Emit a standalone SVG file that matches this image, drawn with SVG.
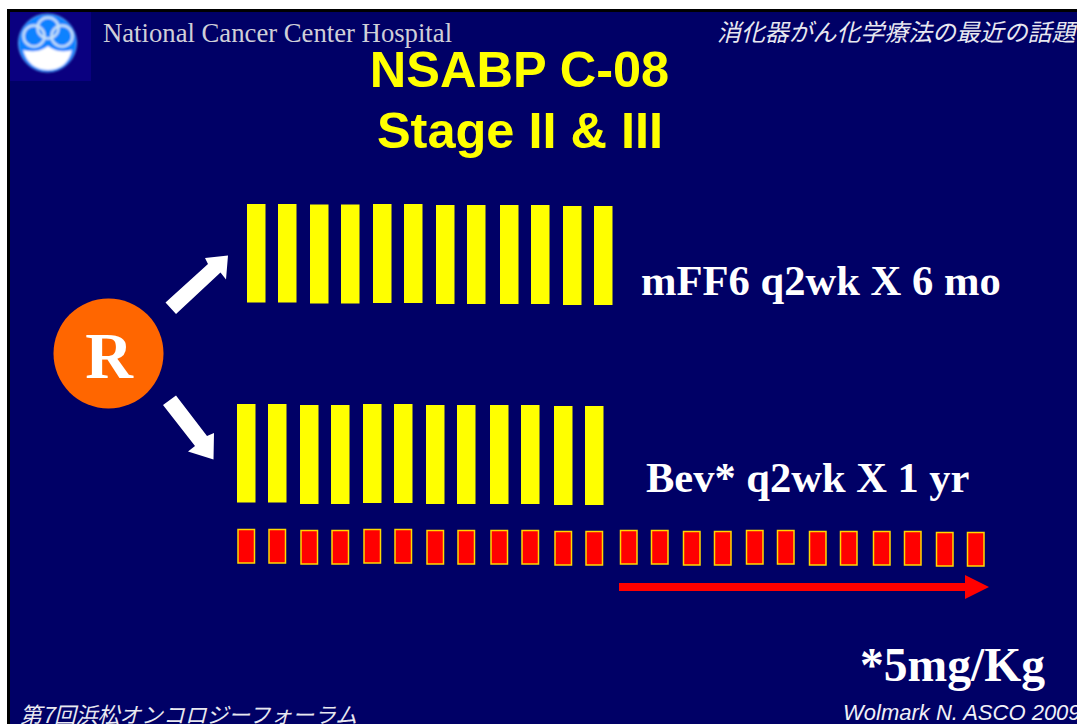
<svg xmlns="http://www.w3.org/2000/svg" width="1077" height="724" viewBox="0 0 1077 724">
<defs>
<style>
.y{fill:#ffff00}
.r{fill:#ff0000;stroke:#ffd800;stroke-width:1.5}
.w{fill:#fff}
.t{font-family:"Liberation Serif",serif;font-weight:700;fill:#fff}
.h{font-family:"Liberation Sans",sans-serif;font-weight:700;fill:#ffff00;font-size:50.500px;text-anchor:middle}
.j{font-family:"Noto Sans CJK JP",sans-serif;font-style:italic;fill:#e8e8f0}
</style>
<filter id="soft" x="-10%" y="-10%" width="120%" height="120%"><feGaussianBlur stdDeviation="0.800"/></filter>
</defs>
<rect width="1077" height="724" fill="#fff"/>
<rect x="7" y="9" width="1070" height="715" fill="#000"/>
<rect x="10" y="12" width="1067" height="712" fill="#000066"/>
<g id="logo">
<rect x="10" y="12" width="81" height="69" fill="#0a0080"/>
<g filter="url(#soft)">
<circle cx="47.500" cy="43" r="29" fill="#0a82ff" stroke="#5aa8f0" stroke-width="1"/>
<path d="M23 50Q38 54 48 46Q58 54 72 50Q67 70 48 70Q29 70 23 50Z" fill="#fff"/>
<g fill="none" stroke="#c8e0f8" stroke-width="2.500"><circle cx="34" cy="36" r="10.500"/><circle cx="62" cy="36" r="10.500"/><circle cx="48" cy="28" r="10.500"/></g>
</g>
</g>
<text x="103" y="42" font-family="Liberation Serif,serif" font-size="26.700" fill="#cfcfd8">National Cancer Center Hospital</text>
<text class="j" x="717" y="41" font-size="23.900">消化器がん化学療法の最近の話題</text>
<text class="h" x="519.500" y="87">NSABP C-08</text>
<text class="h" x="520" y="148">Stage II &amp; III</text>
<g id="bars-top" class="y">
<rect x="247" y="204" width="18.500" height="98.500"/><rect x="278" y="204" width="18.500" height="98.500"/><rect x="310" y="204.500" width="18.500" height="99"/><rect x="341" y="204.500" width="18.500" height="99"/><rect x="373" y="204" width="18.500" height="99"/><rect x="404" y="204" width="18.500" height="99"/><rect x="436" y="205" width="18.500" height="99"/><rect x="467" y="205" width="18.500" height="99"/><rect x="500" y="205" width="18.500" height="99"/><rect x="531" y="205" width="18.500" height="99"/><rect x="563" y="206" width="18.500" height="99"/><rect x="594" y="206" width="18.500" height="99"/>
</g>
<g id="bars-bottom" class="y">
<rect x="237" y="404" width="18.500" height="98.500"/><rect x="268" y="404" width="18.500" height="98.500"/><rect x="300" y="405" width="18.500" height="99"/><rect x="331" y="405" width="18.500" height="99"/><rect x="363" y="404" width="18.500" height="99"/><rect x="394" y="404" width="18.500" height="99"/><rect x="426" y="405" width="18.500" height="99"/><rect x="457" y="405" width="18.500" height="99"/><rect x="490" y="405" width="18.500" height="99"/><rect x="521" y="405" width="18.500" height="99"/><rect x="554" y="406" width="18.500" height="99"/><rect x="585" y="406" width="18.500" height="99"/>
</g>
<g id="bars-red" class="r">
<rect x="238" y="529.500" width="16.500" height="33.500"/><rect x="269" y="529.500" width="16.500" height="33.500"/><rect x="301" y="530.500" width="16.500" height="33.500"/><rect x="332" y="530.500" width="16.500" height="33.500"/><rect x="364" y="529.500" width="16.500" height="33.500"/><rect x="395" y="529.500" width="16.500" height="33.500"/><rect x="427" y="530.500" width="16.500" height="33.500"/><rect x="458" y="530.500" width="16.500" height="33.500"/><rect x="491" y="530.500" width="16.500" height="33.500"/><rect x="522" y="530.500" width="16.500" height="33.500"/><rect x="555" y="531.500" width="16.500" height="33.500"/><rect x="586" y="531.500" width="16.500" height="33.500"/>
<rect x="620.500" y="530.500" width="16.500" height="33.500"/><rect x="651.500" y="530.500" width="16.500" height="33.500"/><rect x="683.500" y="531.500" width="16.500" height="33.500"/><rect x="714.500" y="531.500" width="16.500" height="33.500"/><rect x="746.500" y="530.500" width="16.500" height="33.500"/><rect x="777.500" y="530.500" width="16.500" height="33.500"/><rect x="809.500" y="531.500" width="16.500" height="33.500"/><rect x="840.500" y="531.500" width="16.500" height="33.500"/><rect x="873.500" y="531.500" width="16.500" height="33.500"/><rect x="904.500" y="531.500" width="16.500" height="33.500"/><rect x="936.500" y="532.500" width="16.500" height="33.500"/><rect x="967.500" y="532.500" width="16.500" height="33.500"/>
</g>
<g id="node-r">
<circle cx="108.500" cy="353.500" r="55" fill="#ff6600"/>
<text class="t" x="109" y="378" font-size="66" text-anchor="middle">R</text>
</g>
<g id="connectors">
<polygon class="w" points="165.500,302.500 208,264 205,258 228,255.500 226,279.500 220.500,272.500 176,314"/>
<polygon class="w" points="163,405 176,395.500 207,436 214,433 213.500,459.500 188,451.500 195,446"/>
<polygon fill="#ff0000" points="619,583 965,583 965,575 989,587 965,599 965,591 619,591"/>
</g>
<text class="t" x="641" y="295" font-size="42.600">mFF6 q2wk X 6 mo</text>
<text class="t" x="646" y="492" font-size="42.500">Bev* q2wk X 1 yr</text>
<text class="t" x="860" y="681" font-size="47.600">*5mg/Kg</text>
<text class="j" x="20" y="723" font-size="21.800">第7回浜松オンコロジーフォーラム</text>
<text x="843" y="720" font-family="Liberation Sans,sans-serif" font-style="italic" font-size="22" fill="#f0f0f8">Wolmark N. ASCO 2009</text>
</svg>
